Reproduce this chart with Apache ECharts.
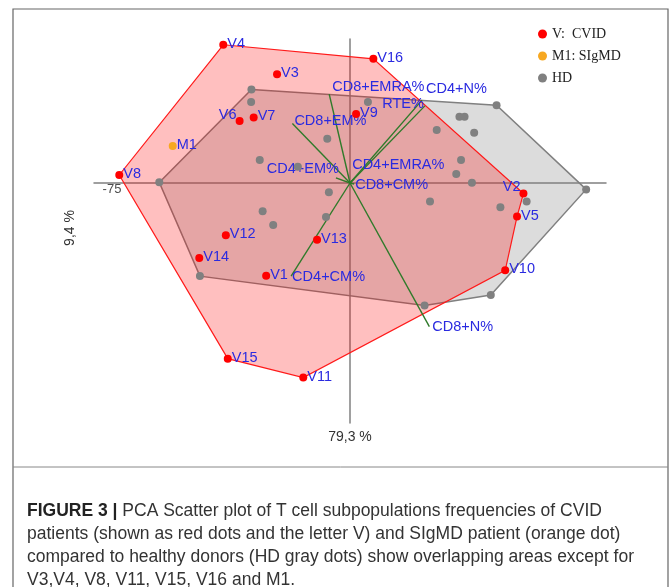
<!DOCTYPE html>
<html>
<head>
<meta charset="utf-8">
<script src="https://cdn.jsdelivr.net/npm/echarts@6/dist/echarts.min.js"></script>
<style>
  html, body { margin: 0; padding: 0; background: #fff; }
  #chart { width: 672px; height: 587px; }
</style>
</head>
<body>
<div id="chart"></div>
<script>
// CVID patients
var cvidNames = ['V1', 'V2', 'V3', 'V4', 'V5', 'V6', 'V7', 'V8', 'V9', 'V10', 'V11', 'V12', 'V13', 'V14', 'V15', 'V16'];
var cvidX = [-26.2, 54.2, -22.8, -39.6, 52.2, -34.5, -30.1, -72.1, 1.9, 48.5, -14.6, -38.8, -10.3, -47.1, -38.2, 7.3];
var cvidY = [-29.0, -3.3, 34.0, 43.2, -10.5, 19.4, 20.5, 2.5, 21.6, -27.3, -60.8, -16.3, -17.7, -23.4, -54.9, 38.8];
// SIgMD patient
var m1X = [-55.4];
var m1Y = [11.6];
// healthy donors
var hdX = [-30.8, -30.9, 5.6, 45.8, 34.2, 35.8, 27.1, 38.8, -7.1, -28.2, 34.7, -16.3, 33.2, 38.1, -59.6, 73.8,
  -6.6, 25.0, 55.2, 47.0, -27.3, -7.5, -24.0, -46.9, 44.0, 23.3];
var hdY = [29.2, 25.3, 25.3, 24.3, 20.7, 20.7, 16.6, 15.7, 13.8, 7.2, 7.2, 5.1, 2.8, 0.1, 0.2, -2.0,
  -2.9, -5.8, -5.8, -7.6, -8.8, -10.6, -13.1, -29.1, -35.0, -38.3];
// hull vertices
var cvidHull = ['V4', 'V16', 'V2', 'V5', 'V10', 'V11', 'V15', 'V8'];
var hdHull = [0, 3, 15, 24, 25, 23, 14];
// loading vectors
var vecNames = ['CD8+EMRA%', 'CD8+EM%', 'CD4+EM%', 'CD4+N%', 'RTE%', 'CD4+EMRA%', 'CD8+CM%', 'CD4+CM%', 'CD8+N%'];
var vecX = [-6.5, -18.0, -4.4, 22.5, 23.4, 1.3, 1.3, -18.4, 24.8];
var vecY = [27.8, 18.6, 1.6, 25.9, 24.1, 1.3, -0.3, -29.1, -44.9];
// axis tick shown
var xTicks = [-75];

// label placement for vectors (align, dx, dy)
var vecLabel = {
  'CD8+EMRA%': ['left', 3, -7],
  'CD8+EM%': ['left', 2, -2],
  'CD4+EM%': ['right', 3, -9],
  'CD4+N%': ['left', 4, -11],
  'RTE%': ['right', -1, -2],
  'CD4+EMRA%': ['left', -2, -14],
  'CD8+CM%': ['left', 1, 1],
  'CD4+CM%': ['left', 1, 1],
  'CD8+N%': ['left', 3, 0]
};
var leftLabels = { 'V6': [0, -6], 'V2': [0, -7] };

var blue = '#2a2ae0';
var labelFont = 'Liberation Sans';

var cvidData = cvidNames.map(function (n, i) {
  var item = { name: n, value: [cvidX[i], cvidY[i]] };
  if (leftLabels[n]) {
    item.label = { position: 'left', distance: -1, offset: leftLabels[n] };
  }
  return item;
});
var hdData = hdX.map(function (x, i) { return [x, hdY[i]]; });

function hullRender(xs, ys, fill, stroke, lw) {
  return function (params, api) {
    var pts = [];
    for (var i = 0; i < xs.length; i++) pts.push(api.coord([xs[i], ys[i]]));
    return {
      type: 'polygon',
      shape: { points: pts },
      style: { fill: fill, stroke: stroke, lineWidth: lw }
    };
  };
}

var cvidHullX = cvidHull.map(function (n) { return cvidX[cvidNames.indexOf(n)]; });
var cvidHullY = cvidHull.map(function (n) { return cvidY[cvidNames.indexOf(n)]; });
var hdHullX = hdHull.map(function (i) { return hdX[i]; });
var hdHullY = hdHull.map(function (i) { return hdY[i]; });

var chart = echarts.init(document.getElementById('chart'));
chart.setOption({
  animation: false,
  grid: { left: 94, top: 39, width: 512, height: 384 },
  xAxis: {
    type: 'value', min: -80, max: 80,
    axisLine: { onZero: true, lineStyle: { color: '#808080', width: 1.5 } },
    axisTick: { show: false },
    splitLine: { show: false },
    axisLabel: { show: false }
  },
  yAxis: {
    type: 'value', min: -75, max: 45,
    axisLine: { onZero: true, lineStyle: { color: '#808080', width: 1.5 } },
    axisTick: { show: false },
    splitLine: { show: false },
    axisLabel: { show: false }
  },
  legend: {
    orient: 'vertical', left: 533, top: 22, itemGap: 8,
    icon: 'circle', itemWidth: 9, itemHeight: 9,
    textStyle: { fontFamily: 'Liberation Serif', fontSize: 14, color: '#222', lineHeight: 14 },
    data: ['V:  CVID', 'M1: SIgMD', 'HD']
  },
  series: [
    {
      type: 'custom', z: 1, silent: true,
      renderItem: hullRender(hdHullX, hdHullY, 'rgba(128,128,128,0.28)', '#808080', 1.5),
      data: [[0, 0]]
    },
    {
      type: 'custom', z: 2, silent: true,
      renderItem: hullRender(cvidHullX, cvidHullY, 'rgba(255,0,0,0.25)', '#ff1a1a', 1.2),
      data: [[0, 0]]
    },
    {
      type: 'custom', z: 3, silent: true,
      renderItem: function (params, api) {
        var i = params.dataIndex;
        var o = api.coord([0, 0]);
        var e = api.coord([vecX[i], vecY[i]]);
        var lp = vecLabel[vecNames[i]];
        return {
          type: 'group',
          children: [
            { type: 'line', shape: { x1: o[0], y1: o[1], x2: e[0], y2: e[1] },
              style: { stroke: '#2f7a2a', lineWidth: 1.4 } },
            { type: 'text', z2: 10,
              style: { text: vecNames[i], x: e[0] + lp[1], y: e[1] + lp[2],
                align: lp[0], verticalAlign: 'middle',
                fill: blue, font: '14.5px ' + labelFont } }
          ]
        };
      },
      data: vecX.map(function (x, i) { return [x, vecY[i]]; })
    },
    {
      type: 'scatter', z: 3, symbolSize: 0, silent: true,
      label: { show: true, position: 'inside', offset: [2, 6], color: '#222', fontSize: 13,
        fontFamily: labelFont, formatter: function (p) { return String(p.value[0]); } },
      data: xTicks.map(function (t) { return [t, 0]; })
    },
    {
      name: 'HD', type: 'scatter', z: 4, symbolSize: 8,
      itemStyle: { color: '#808080', opacity: 1 },
      data: hdData
    },
    {
      name: 'V:  CVID', type: 'scatter', z: 5, symbolSize: 8,
      itemStyle: { color: '#ff0000', opacity: 1 },
      label: { show: true, position: 'right', distance: 0, offset: [0, -1], formatter: '{b}',
        color: blue, fontSize: 14.5, fontFamily: labelFont },
      data: cvidData
    },
    {
      name: 'M1: SIgMD', type: 'scatter', z: 5, symbolSize: 8,
      itemStyle: { color: '#f7a821', opacity: 1 },
      label: { show: true, position: 'right', distance: 0, offset: [0, -1], formatter: 'M1',
        color: blue, fontSize: 14.5, fontFamily: labelFont },
      data: [{ name: 'M1', value: [m1X[0], m1Y[0]] }]
    }
  ],
  graphic: [
    { type: 'rect', shape: { x: 13, y: 9, width: 655, height: 600 },
      style: { fill: 'none', stroke: '#666', lineWidth: 1.2 }, z: 100, silent: true },
    { type: 'line', shape: { x1: 13, y1: 467, x2: 668, y2: 467 },
      style: { stroke: '#888', lineWidth: 1 }, z: 100, silent: true },
    { type: 'text', x: 350, y: 437, z: 100,
      style: { text: '79,3 %', align: 'center', verticalAlign: 'middle', fill: '#333', font: '14px ' + labelFont } },
    { type: 'text', x: 70, y: 228, rotation: Math.PI / 2, z: 100,
      style: { text: '9,4 %', align: 'center', verticalAlign: 'middle', fill: '#333', font: '14px ' + labelFont } },
    { type: 'text', x: 27, y: 511, z: 100,
      style: { text: '{b|FIGURE 3 |} PCA Scatter plot of T cell subpopulations frequencies of CVID',
        verticalAlign: 'middle', fill: '#333', font: '17.5px ' + labelFont,
        rich: { b: { fontWeight: 'bold', fontSize: 17.5, fontFamily: labelFont, fill: '#222' } } } },
    { type: 'text', x: 27, y: 534, z: 100,
      style: { text: 'patients (shown as red dots and the letter V) and SIgMD patient (orange dot)',
        verticalAlign: 'middle', fill: '#333', font: '17.5px ' + labelFont } },
    { type: 'text', x: 27, y: 557, z: 100,
      style: { text: 'compared to healthy donors (HD gray dots) show overlapping areas except for',
        verticalAlign: 'middle', fill: '#333', font: '17.5px ' + labelFont } },
    { type: 'text', x: 27, y: 580, z: 100,
      style: { text: 'V3,V4, V8, V11, V15, V16 and M1.',
        verticalAlign: 'middle', fill: '#333', font: '17.5px ' + labelFont } }
  ]
});
</script>
</body>
</html>
